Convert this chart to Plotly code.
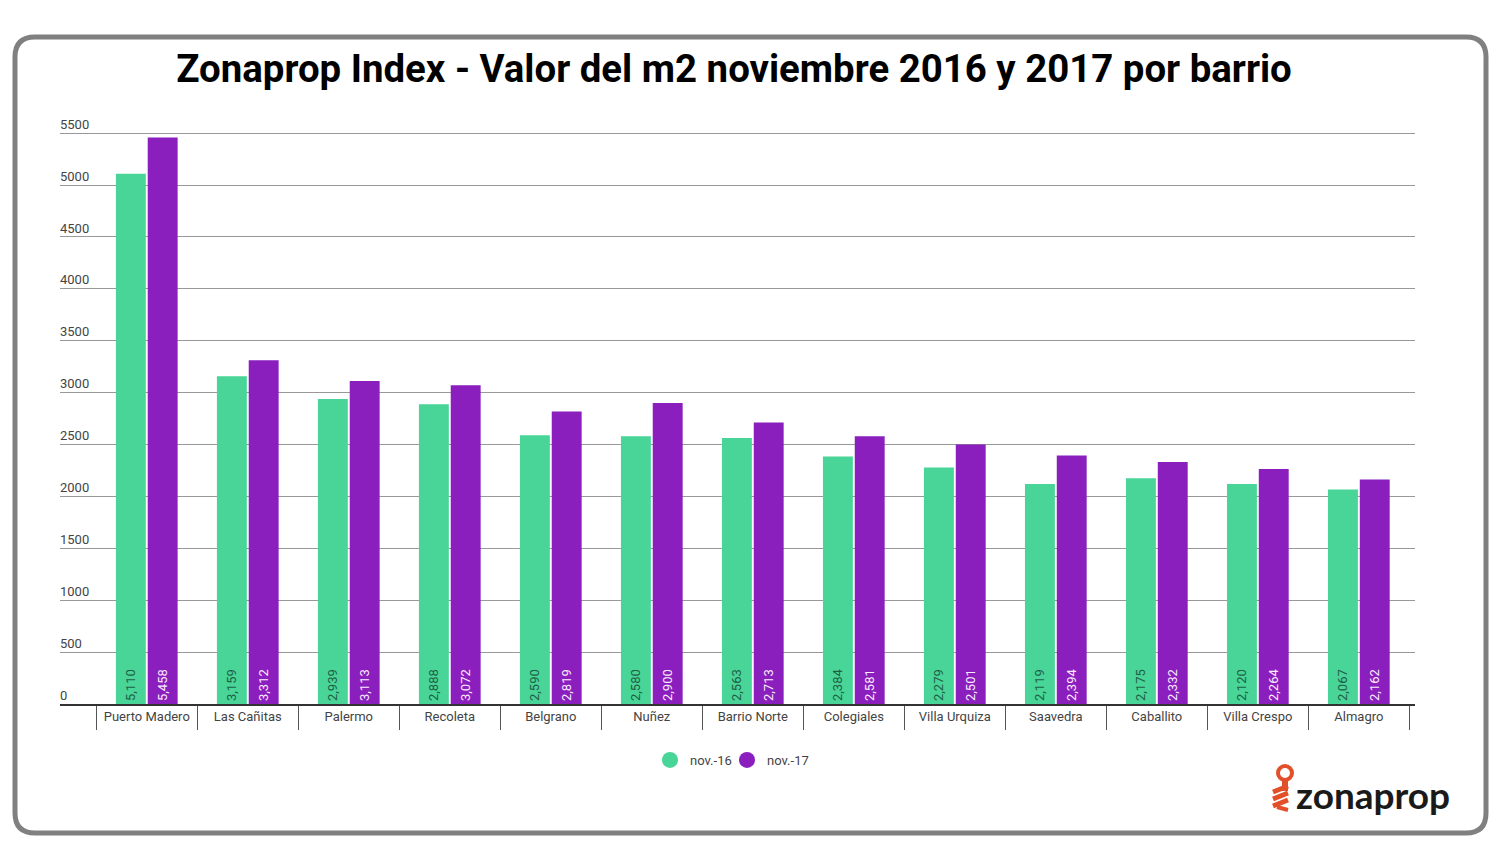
import plotly.graph_objs as go

barrios = ['Puerto Madero', 'Las Cañitas', 'Palermo', 'Recoleta', 'Belgrano', 'Nuñez', 'Barrio Norte',
           'Colegiales', 'Villa Urquiza', 'Saavedra', 'Caballito', 'Villa Crespo', 'Almagro']
nov16 = [5110, 3159, 2939, 2888, 2590, 2580, 2563, 2384, 2279, 2119, 2175, 2120, 2067]
nov17 = [5458, 3312, 3113, 3072, 2819, 2900, 2713, 2581, 2501, 2394, 2332, 2264, 2162]
yTicks = [0, 500, 1000, 1500, 2000, 2500, 3000, 3500, 4000, 4500, 5000, 5500]

titleText = 'Zonaprop Index - Valor del m2 noviembre 2016 y 2017 por barrio'
green = '#48d597'
purple = '#8a1fbd'
orange = '#e2502a'


def px(x):
    return (x - 60) / 1355.0  # pixels to paper


def py(y):
    return (704 - y) / 592.0


def line(x0, y0, x1, y1, width):
    return dict(type='line', xref='paper', yref='paper', x0=px(x0), y0=py(y0), x1=px(x1), y1=py(y1),
                line=dict(color=orange, width=width))


def borderPath():
    l, r, t, b, c = px(15), px(1486), py(37), py(833), 20
    cx, cy = c / 1355.0, c / 592.0
    return ('M {0},{2} L {1},{2} Q {4},{2} {4},{5} L {4},{6} Q {4},{3} {1},{3} L {0},{3} '
            'Q {7},{3} {7},{6} L {7},{5} Q {7},{2} {0},{2} Z').format(
        l + cx, r - cx, t, b, r, t - cy, b + cy, l)


def plotChart():
    fig = go.Figure()

    fig.add_trace(go.Bar(x=barrios, y=nov16, name='nov.-16', marker=dict(color=green, line=dict(width=0)),
                         showlegend=False, texttemplate='%{y:,}', textposition='inside', insidetextanchor='start',
                         textangle=-90, constraintext='none', cliponaxis=False,
                         insidetextfont=dict(family='Roboto', size=13, color='#1f5f45')))
    fig.add_trace(go.Bar(x=barrios, y=nov17, name='nov.-17', marker=dict(color=purple, line=dict(width=0)),
                         showlegend=False, texttemplate='%{y:,}', textposition='inside', insidetextanchor='start',
                         textangle=-90, constraintext='none', cliponaxis=False,
                         insidetextfont=dict(family='Roboto', size=13, color='#fbe9ff')))

    # only here for the round legend markers, one legend each to place them
    fig.add_trace(go.Scatter(x=[barrios[0]], y=[None], name='nov.-16', mode='markers', legend='legend',
                             marker=dict(color=green, size=16)))
    fig.add_trace(go.Scatter(x=[barrios[0]], y=[None], name='nov.-17', mode='markers', legend='legend2',
                             marker=dict(color=purple, size=16)))

    shapes = [dict(type='path', xref='paper', yref='paper', path=borderPath(), layer='below',
                   line=dict(color='#808080', width=5), fillcolor='white')]

    # logo key
    shapes.append(dict(type='circle', xref='paper', yref='paper', x0=px(1278), y0=py(780), x1=px(1292), y1=py(766),
                       line=dict(color=orange, width=4)))
    shapes.append(line(1285, 781, 1285, 791, 6))
    shapes.append(line(1273, 792, 1288, 786, 5))
    shapes.append(line(1273, 799, 1288, 793, 5))
    shapes.append(line(1273, 806, 1288, 800, 5))
    shapes.append(line(1277, 807, 1288, 810, 4))

    fig.add_annotation(text='<b>zonaprop</b>', xref='paper', yref='paper', x=px(1294), y=py(794), xanchor='left',
                       yanchor='middle', showarrow=False, font=dict(family='Lato', size=37, color='#1a1a1a'))

    fig.update_layout(
        width=1500, height=844,
        margin=dict(l=60, r=85, t=112, b=140),
        paper_bgcolor='white', plot_bgcolor='white',
        font=dict(family='Roboto', size=13, color='#444444'),
        title=dict(text='<b>{0}</b>'.format(titleText), x=734 / 1500.0, xanchor='center', xref='container',
                   y=1 - 69 / 844.0, yanchor='middle', yref='container',
                   font=dict(family='Roboto', size=38.4, color='black')),
        barmode='group', bargap=0.37, bargroupgap=0.06,
        legend=dict(orientation='h', x=650 / 1500.0, xref='container', xanchor='left', y=1 - 760 / 844.0,
                    yref='container', yanchor='middle', bgcolor='rgba(0,0,0,0)',
                    font=dict(family='Roboto', size=13, color='#444444')),
        legend2=dict(orientation='h', x=727 / 1500.0, xref='container', xanchor='left', y=1 - 760 / 844.0,
                     yref='container', yanchor='middle', bgcolor='rgba(0,0,0,0)',
                     font=dict(family='Roboto', size=13, color='#444444')),
        shapes=shapes,
        xaxis=dict(type='category', categoryorder='array', categoryarray=barrios, range=[-0.859, 12.556],
                   showgrid=False, showline=True, linecolor='#333333', linewidth=2, zeroline=False,
                   ticks='outside', tickson='boundaries', ticklen=24, tickcolor='#555555', tickwidth=1,
                   ticklabelstandoff=-1, tickangle=0, tickfont=dict(family='Roboto', size=13, color='#444444')),
        yaxis=dict(range=[0, 5704], tickvals=yTicks, showgrid=True, gridcolor='#999999', gridwidth=1,
                   zeroline=False, showline=False, ticks='', ticklabelposition='inside', ticklabelshift=-9,
                   ticklabelstandoff=-3, tickformat='d', tickfont=dict(family='Roboto', size=13, color='#444444')))

    fig.write_html('out.html', post_script="document.body.style.margin='0'", config=dict(displayModeBar=False))


plotChart()
